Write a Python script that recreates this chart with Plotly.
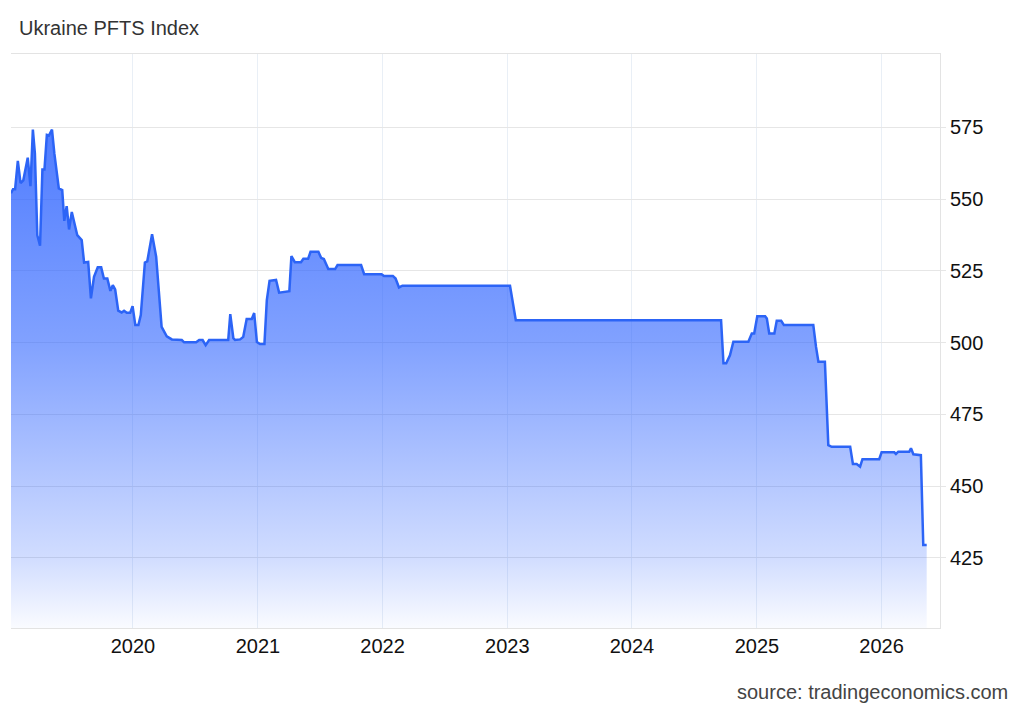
import plotly.graph_objects as go

# ---- data ----
dates = [
    "2019-01-09", "2019-01-15", "2019-01-21", "2019-01-29", "2019-02-06", "2019-02-14",
    "2019-02-27", "2019-03-07", "2019-03-14", "2019-03-20", "2019-03-27", "2019-04-04",
    "2019-04-11", "2019-04-17", "2019-04-24", "2019-04-30", "2019-05-09", "2019-05-16",
    "2019-05-29", "2019-06-08", "2019-06-14", "2019-06-21", "2019-06-28", "2019-07-06",
    "2019-07-22", "2019-08-04", "2019-08-11", "2019-08-23", "2019-08-31", "2019-09-09",
    "2019-09-20", "2019-09-30", "2019-10-08", "2019-10-18", "2019-10-27", "2019-11-03",
    "2019-11-10", "2019-11-19", "2019-11-29", "2019-12-06", "2019-12-14", "2019-12-24",
    "2019-12-31", "2020-01-08", "2020-01-17", "2020-01-24", "2020-02-05", "2020-02-12",
    "2020-02-26", "2020-03-09", "2020-03-25", "2020-04-09", "2020-04-24", "2020-05-23",
    "2020-05-30", "2020-07-04", "2020-07-13", "2020-07-23", "2020-08-01", "2020-08-11",
    "2020-10-06", "2020-10-12", "2020-10-21", "2020-10-26", "2020-11-10", "2020-11-19",
    "2020-11-29", "2020-12-14", "2020-12-21", "2020-12-29", "2021-01-07", "2021-01-20",
    "2021-01-27", "2021-02-04", "2021-02-23", "2021-03-04", "2021-04-03", "2021-04-09",
    "2021-04-19", "2021-05-07", "2021-05-14", "2021-05-28", "2021-06-04", "2021-06-27",
    "2021-07-05", "2021-07-13", "2021-07-26", "2021-08-15", "2021-08-22", "2021-10-30",
    "2021-11-08", "2021-12-29", "2022-01-05", "2022-01-31", "2022-02-08", "2022-02-18",
    "2022-02-28", "2023-01-09", "2023-01-26", "2024-09-18", "2024-09-25", "2024-10-03",
    "2024-10-14", "2024-10-24", "2024-12-07", "2024-12-17", "2024-12-24", "2025-01-02",
    "2025-01-25", "2025-01-30", "2025-02-06", "2025-02-21", "2025-02-28", "2025-03-13",
    "2025-03-21", "2025-06-15", "2025-06-23", "2025-06-30", "2025-07-19", "2025-07-29",
    "2025-08-08", "2025-10-01", "2025-10-09", "2025-10-20", "2025-10-30", "2025-11-06",
    "2025-12-25", "2026-01-01", "2026-02-07", "2026-02-12", "2026-02-19", "2026-03-23",
    "2026-03-28", "2026-04-04", "2026-04-26", "2026-05-03", "2026-05-13",
]
values = [
    552.0, 553.4, 553.4, 563.3, 555.5, 556.5,
    564.4, 554.5, 574.2, 565.8, 537.4, 533.7,
    560.3, 560.3, 572.3, 572.1, 574.2, 565.8,
    553.7, 553.1, 542.4, 547.5, 539.4, 545.5,
    537.4, 535.7, 527.9, 528.1, 515.4, 522.9,
    526.2, 526.2, 522.3, 522.3, 518.0, 520.0,
    518.5, 511.1, 510.5, 511.1, 510.4, 510.4,
    512.7, 506.1, 506.1, 509.6, 527.9, 528.3,
    537.7, 529.9, 505.5, 502.2, 501.1, 500.9,
    500.1, 500.1, 500.9, 500.9, 499.1, 500.9,
    500.9, 509.9, 501.5, 500.9, 501.1, 502.0,
    508.2, 508.2, 510.3, 500.2, 499.5, 499.5,
    514.8, 521.5, 521.8, 517.4, 517.9, 530.1,
    528.0, 528.0, 529.2, 529.2, 531.6, 531.6,
    529.5, 529.1, 525.6, 525.6, 527.0, 527.0,
    523.8, 523.8, 523.2, 523.2, 522.3, 519.2,
    519.8, 519.8, 507.8, 507.8, 492.8, 492.8,
    495.6, 500.3, 500.3, 503.2, 503.2, 509.2,
    509.2, 508.4, 503.2, 503.2, 507.6, 507.6,
    506.1, 506.1, 498.5, 493.3, 493.3, 464.3,
    463.7, 463.7, 457.7, 457.7, 456.8, 459.4,
    459.4, 461.8, 461.8, 461.2, 462.0, 462.0,
    463.2, 461.1, 460.8, 429.5, 429.5,
]
y_ticks = [425, 450, 475, 500, 525, 550, 575]
x_ticks = ["2020-01-01", "2021-01-01", "2022-01-01", "2023-01-01",
           "2024-01-01", "2025-01-01", "2026-01-01"]
x_tick_text = ["2020", "2021", "2022", "2023", "2024", "2025", "2026"]
title_text = "Ukraine PFTS Index"
source_text = "source: tradingeconomics.com"

FONT = "Liberation Sans, Arial, Helvetica, sans-serif"
LINE = "#2c64f6"

fig = go.Figure()
fig.add_trace(go.Scatter(
    x=dates, y=values, mode="lines",
    line=dict(color=LINE, width=2.5),
    fill="tozeroy",
    fillgradient=dict(
        type="vertical", start=400, stop=580,
        colorscale=[
            [0.0, "rgba(44,98,255,0.02)"],
            [0.14, "rgba(44,98,255,0.22)"],
            [0.56, "rgba(44,98,255,0.60)"],
            [1.0, "rgba(44,98,255,0.85)"],
        ],
    ),
    hoverinfo="skip",
    showlegend=False,
))

fig.update_layout(
    width=1024, height=710, autosize=False,
    margin=dict(l=3, r=92, t=46, b=90, pad=0),
    paper_bgcolor="white", plot_bgcolor="white",
    font=dict(family=FONT, size=20, color="#111111"),
    showlegend=False,
    xaxis=dict(
        type="date",
        range=["2019-01-09", "2026-06-21"],
        tickvals=x_ticks, ticktext=x_tick_text,
        showgrid=True, gridcolor="#e9eff6", gridwidth=1,
        showline=True, mirror=True, linecolor="#e3e3e3", linewidth=1,
        zeroline=False, ticks="",
        tickfont=dict(family=FONT, size=20, color="#111111"),
    ),
    yaxis=dict(
        side="right",
        range=[400.6, 600.5],
        tickvals=y_ticks,
        showgrid=True, gridcolor="#e6e6e6", gridwidth=1,
        showline=True, linecolor="#e3e3e3", linewidth=1,
        zeroline=False, ticks="outside", ticklen=5, tickcolor="#e6e6e6",
        tickfont=dict(family=FONT, size=20, color="#111111"),
    ),
    annotations=[
        dict(text=title_text, xref="paper", yref="paper",
             x=(17 - 11) / 929, y=(628 - 28) / 574,
             xanchor="left", yanchor="middle", showarrow=False,
             font=dict(family=FONT, size=20, color="#333333")),
        dict(text=source_text, xref="paper", yref="paper",
             x=(1010 - 11) / 929, y=(628 - 692) / 574,
             xanchor="right", yanchor="middle", showarrow=False,
             font=dict(family=FONT, size=20, color="#444444")),
    ],
)

fig.write_html("out.html")
